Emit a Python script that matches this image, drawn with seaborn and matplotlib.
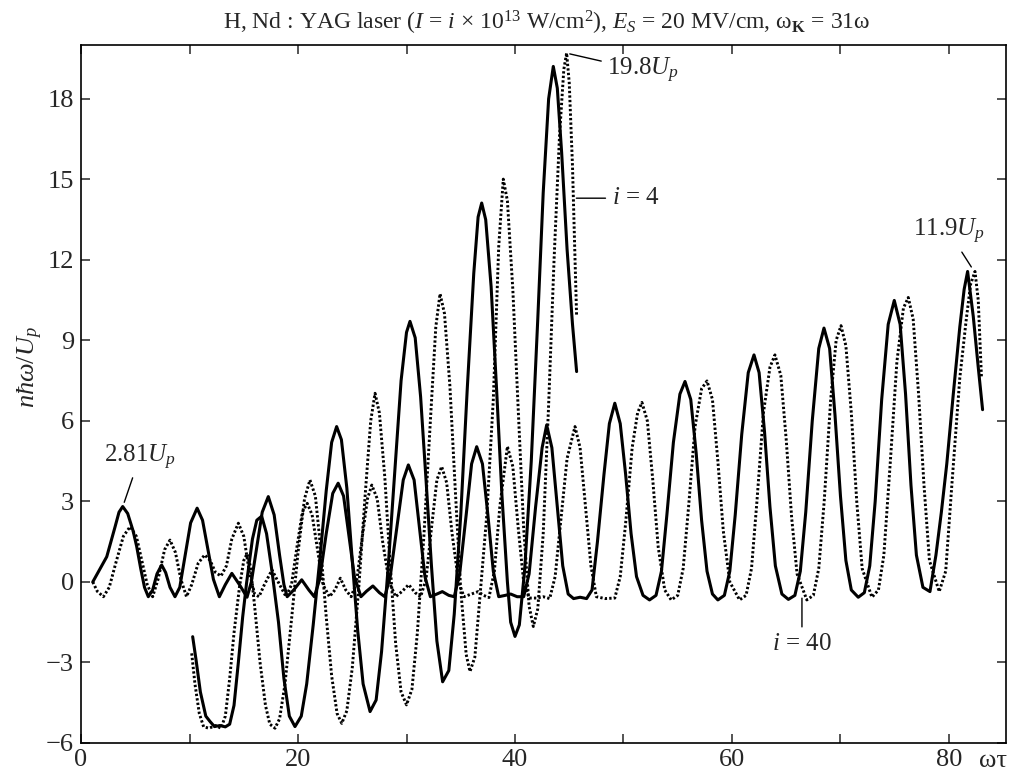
import matplotlib
matplotlib.use("Agg")
import matplotlib.pyplot as plt
import seaborn as sns
import pandas as pd

# ---- data ----
# i = 40, solid
a_x = [1.08, 1.7, 2.37, 3.14, 3.5, 3.84, 4.3, 4.8, 5.13, 5.5, 5.85, 6.2, 6.6, 7.0, 7.43, 7.8, 8.2, 8.66,
       9.1, 9.6, 10.1, 10.7, 11.2, 11.7, 12.2, 12.75, 13.3, 13.9, 14.6, 15.3, 15.7, 16.2, 16.7, 17.26,
       17.8, 18.3, 18.7, 19.0, 19.6, 20.34, 21.0, 21.5, 22.0, 22.6, 23.2, 23.7, 24.2, 24.7, 25.2, 25.8,
       26.3, 26.9, 27.5, 28.0, 28.5, 29.1, 29.7, 30.17, 30.7, 31.2, 31.7, 32.2, 32.8, 33.3, 33.9, 34.4,
       34.9, 35.5, 36.0, 36.47, 37.0, 37.5, 38.0, 38.5, 39.1, 39.6, 40.2, 40.8, 41.3, 41.9, 42.5, 42.92,
       43.4, 43.9, 44.4, 44.9, 45.4, 46.0, 46.6, 47.1, 47.6, 48.2, 48.7, 49.2, 49.7, 50.2, 50.7, 51.2,
       51.8, 52.4, 53.0, 53.5, 54.0, 54.6, 55.2, 55.67, 56.2, 56.7, 57.2, 57.7, 58.2, 58.7, 59.3, 59.8,
       60.3, 60.9, 61.5, 62.03, 62.5, 63.0, 63.5, 64.0, 64.6, 65.2, 65.8, 66.3, 66.8, 67.4, 68.0, 68.48,
       69.0, 69.5, 70.0, 70.5, 71.0, 71.64, 72.2, 72.7, 73.2, 73.8, 74.4, 74.96, 75.5, 76.0, 76.5, 77.0,
       77.6, 78.25, 78.8, 79.3, 79.8, 80.4, 81.0, 81.4, 81.72, 82.24, 82.7, 83.1]
a_y = [0.0, 0.45, 0.94, 2.06, 2.6, 2.81, 2.55, 1.9, 1.32, 0.5, -0.2, -0.55, -0.3, 0.3, 0.63, 0.35, -0.2, -0.55,
       -0.2, 1.0, 2.2, 2.75, 2.3, 1.2, 0.1, -0.55, -0.1, 0.32, -0.1, -0.57, 0.0, 1.3, 2.6, 3.18,
       2.5, 1.0, -0.1, -0.55, -0.3, 0.08, -0.3, -0.55, 0.1, 1.8, 3.3, 3.68, 3.2, 1.7, 0.2, -0.55,
       -0.35, -0.15, -0.4, -0.55, 0.2, 2.0, 3.8, 4.36, 3.8, 2.0, 0.2, -0.55, -0.45, -0.36, -0.5, -0.55,
       0.3, 2.5, 4.4, 5.04, 4.4, 2.5, 0.4, -0.55, -0.5, -0.45, -0.55, -0.55, 0.3, 2.8, 5.0, 5.85,
       5.0, 2.8, 0.6, -0.45, -0.62, -0.57, -0.62, -0.3, 1.5, 4.0, 5.9, 6.66, 5.9, 4.0, 1.8, 0.2,
       -0.5, -0.67, -0.5, 0.4, 2.5, 5.2, 7.0, 7.47, 6.8, 4.8, 2.3, 0.4, -0.45, -0.67, -0.5, 0.4,
       2.5, 5.5, 7.8, 8.46, 7.8, 5.6, 2.8, 0.6, -0.45, -0.65, -0.5, 0.4, 2.6, 6.0, 8.7, 9.46,
       8.7, 6.2, 3.2, 0.8, -0.3, -0.57, -0.4, 0.6, 3.0, 6.8, 9.6, 10.49, 9.6, 7.0, 3.6, 1.0,
       -0.2, -0.36, 1.0, 2.6, 4.4, 7.0, 9.5, 10.9, 11.57, 9.9, 8.0, 6.42]

# i = 40, dotted
b_x = [1.08, 1.5, 2.06, 2.6, 3.2, 3.9, 4.52, 5.1, 5.6, 6.1, 6.6, 7.1, 7.7, 8.2, 8.7, 9.2, 9.72, 10.2,
       10.8, 11.4, 11.9, 12.4, 12.9, 13.4, 13.9, 14.5, 15.0, 15.5, 16.0, 16.4, 16.9, 17.6, 18.3, 18.9,
       19.4, 19.9, 20.4, 20.85, 21.3, 21.8, 22.3, 22.9, 23.4, 23.9, 24.4, 24.9, 25.4, 25.9, 26.4, 26.8,
       27.3, 27.8, 28.4, 29.0, 29.6, 30.2, 30.8, 31.3, 31.8, 32.3, 32.8, 33.24, 33.7, 34.2, 34.8, 35.3,
       36.0, 36.6, 37.1, 37.6, 38.1, 38.6, 39.3, 39.8, 40.3, 40.8, 41.3, 42.0, 42.6, 43.2, 43.7, 44.2,
       44.8, 45.53, 46.0, 46.5, 47.0, 47.5, 48.3, 49.2, 49.7, 50.2, 50.8, 51.3, 51.7, 52.2, 52.7, 53.2,
       53.8, 54.4, 55.0, 55.5, 56.0, 56.6, 57.2, 57.7, 58.2, 58.7, 59.2, 59.8, 60.7, 61.3, 61.8, 62.3,
       62.9, 63.5, 63.96, 64.5, 65.0, 65.5, 66.0, 66.9, 67.5, 68.0, 68.5, 69.1, 69.6, 70.05, 70.5, 71.0,
       71.5, 72.0, 72.9, 73.5, 74.0, 74.6, 75.2, 75.8, 76.25, 76.7, 77.2, 77.7, 78.2, 79.1, 79.7, 80.3,
       81.0, 81.6, 82.0, 82.4, 82.7, 83.0]
b_y = [0.0, -0.35, -0.55, -0.2, 0.7, 1.7, 2.06, 1.7, 0.8, -0.1, -0.55, 0.1, 1.2, 1.56, 1.1, 0.1, -0.55, -0.1,
       0.7, 1.01, 0.8, 0.35, 0.22, 0.6, 1.6, 2.19, 1.7, 0.4, -0.45, -0.55, -0.1, 0.45, -0.1, -0.55,
       -0.1, 1.3, 2.6, 2.93, 2.5, 1.2, -0.1, -0.55, -0.3, 0.14, -0.3, -0.55, 0.0, 1.6, 3.1, 3.61,
       3.1, 1.5, 0.0, -0.55, -0.35, -0.1, -0.4, -0.55, 0.1, 2.0, 3.8, 4.3, 3.7, 1.8, 0.0, -0.55,
       -0.45, -0.36, -0.5, -0.58, 0.4, 2.8, 5.05, 4.3, 2.0, 0.0, -0.6, -0.6, -0.55, -0.62, 0.2, 2.2,
       4.6, 5.79, 5.0, 2.8, 0.6, -0.55, -0.62, -0.6, 0.2, 2.2, 5.0, 6.3, 6.69, 6.0, 3.8, 1.3,
       -0.3, -0.67, -0.5, 0.5, 2.8, 5.8, 7.2, 7.49, 6.8, 4.5, 1.9, 0.0, -0.67, -0.5, 0.5, 3.0,
       6.3, 8.0, 8.46, 7.7, 5.3, 2.4, 0.3, -0.67, -0.5, 0.5, 3.0, 6.8, 9.0, 9.55, 8.8, 6.3,
       3.0, 0.5, -0.57, -0.3, 1.0, 4.5, 8.2, 10.2, 10.6, 9.8, 7.0, 3.6, 0.8, -0.36, 0.4, 3.8,
       7.6, 9.8, 11.1, 11.57, 10.5, 7.6]

# i = 4, solid
c_x = [10.29, 10.6, 11.0, 11.5, 11.89, 12.3, 12.8, 13.3, 13.7, 14.1, 14.5, 14.9, 15.27, 15.8, 16.2, 16.65,
       17.1, 17.6, 18.2, 18.7, 19.2, 19.72, 20.3, 20.8, 21.4, 22.0, 22.6, 23.1, 23.56, 24.0, 24.5, 25.0,
       25.5, 26.0, 26.64, 27.2, 27.7, 28.3, 28.9, 29.5, 30.0, 30.32, 30.8, 31.3, 31.8, 32.3, 32.8, 33.33,
       33.9, 34.4, 35.0, 35.6, 36.2, 36.6, 36.93, 37.3, 37.8, 38.3, 38.8, 39.3, 39.6, 40.0, 40.4, 40.9,
       41.5, 42.1, 42.6, 43.1, 43.53, 43.9, 44.3, 44.8, 45.3, 45.68]
c_y = [-2.04, -2.9, -4.1, -5.0, -5.2, -5.39, -5.35, -5.4, -5.3, -4.6, -3.0, -1.3, 0.0, 1.6, 2.3, 2.45,
       1.8, 0.4, -1.5, -3.6, -5.0, -5.39, -5.0, -3.8, -1.6, 0.8, 3.4, 5.2, 5.79, 5.3, 3.5, 0.8,
       -1.8, -3.8, -4.83, -4.4, -2.6, 0.5, 4.0, 7.5, 9.3, 9.71, 9.1, 6.9, 3.8, 0.6, -2.2, -3.72,
       -3.3, -1.2, 2.5, 7.2, 11.5, 13.6, 14.12, 13.5, 11.0, 7.2, 3.2, 0.0, -1.5, -2.03, -1.6, 0.5,
       4.5, 9.8, 14.5, 18.0, 19.21, 18.4, 16.0, 12.4, 9.6, 7.84]

# i = 4, dotted
d_x = [10.2, 10.5, 10.9, 11.3, 11.8, 12.4, 12.9, 13.3, 13.7, 14.1, 14.6, 15.0, 15.3, 15.6, 16.0, 16.5,
       17.0, 17.4, 17.88, 18.3, 18.8, 19.4, 20.0, 20.6, 21.1, 21.6, 22.1, 22.6, 23.1, 23.6, 24.03, 24.5,
       25.0, 25.6, 26.2, 26.7, 27.1, 27.5, 28.0, 28.5, 29.0, 29.5, 30.0, 30.5, 31.0, 31.6, 32.2, 32.7,
       33.09, 33.5, 34.0, 34.5, 35.0, 35.5, 35.85, 36.3, 36.8, 37.4, 38.0, 38.5, 38.92, 39.3, 39.8, 40.3,
       40.8, 41.3, 41.69, 42.1, 42.6, 43.1, 43.6, 44.1, 44.5, 44.76, 45.0, 45.3, 45.5, 45.68]
d_y = [-2.66, -3.8, -4.9, -5.4, -5.45, -5.35, -5.45, -5.0, -3.6, -1.9, -0.2, 0.8, 1.05, 0.6, -0.9, -3.0,
       -4.6, -5.3, -5.45, -5.1, -3.8, -1.4, 1.1, 3.1, 3.8, 3.2, 1.2, -1.3, -3.5, -4.9, -5.27, -4.8,
       -3.2, -0.2, 3.3, 6.0, 7.03, 6.3, 3.9, 0.6, -2.3, -4.1, -4.58, -4.0, -1.9, 1.7, 6.0, 9.5,
       10.74, 10.0, 7.3, 3.4, -0.3, -2.7, -3.34, -2.8, -0.4, 2.5, 6.8, 12.5, 15.01, 14.2, 10.9, 6.4,
       2.0, -0.9, -1.66, -1.0, 1.8, 6.6, 12.0, 16.6, 19.1, 19.71, 18.6, 15.5, 12.5, 9.9]

x_ticks = [0, 20, 40, 60, 80]
y_ticks = [-6, -3, 0, 3, 6, 9, 12, 15, 18]

# ---- style ----
sns.set_style("ticks")
plt.rcParams["font.family"] = ["Liberation Serif", "DejaVu Serif"]
plt.rcParams["mathtext.fontset"] = "custom"
plt.rcParams["mathtext.rm"] = "Liberation Serif"
plt.rcParams["mathtext.it"] = "Liberation Serif:italic"
plt.rcParams["mathtext.bf"] = "Liberation Serif:bold"

fig = plt.figure(figsize=(10.13, 7.77), dpi=100)
ax = fig.add_axes([0.080, 0.0438, 0.913, 0.898])

dotted = (0, (0.8, 0.75))
curves = [
    (a_x, a_y, "-"),
    (b_x, b_y, dotted),
    (c_x, c_y, "-"),
    (d_x, d_y, dotted),
]
for xs, ys, ls in curves:
    df = pd.DataFrame({"x": xs, "y": ys})
    lw = 2.2 if ls == "-" else 2.1
    sns.lineplot(data=df, x="x", y="y", ax=ax, sort=False, estimator=None,
                 color="black", linewidth=lw, linestyle=ls,
                 solid_joinstyle="round", dash_joinstyle="round", solid_capstyle="round")

ax.set_xlim(0, 85.25)
ax.set_ylim(-6, 20)
ax.set_xticks(x_ticks)
ax.set_xticks([10, 30, 50, 70], minor=True)
ax.set_yticks(y_ticks)
ax.set_yticklabels([("\u2212" + str(-v)) if v < 0 else str(v) for v in y_ticks])
ax.set_xlabel("")
ax.set_ylabel("")
ax.tick_params(axis="both", which="both", direction="in", top=True, right=True,
               length=6.5, width=1.1, labelsize=19, pad=5)
ax.tick_params(axis="x", which="both", pad=4)
for s in ax.spines.values():
    s.set_linewidth(1.2)
    s.set_color("black")

# title and axis labels
fig.text(0.54, 0.970,
         r"H, Nd : YAG laser ($I$ = $i$ × 10$^{13}$ W/cm$^2$), $E_S$ = 20 MV/cm, ω$_\mathbf{K}$ = 31ω",
         ha="center", va="center", fontsize=17)
fig.text(0.030, 1 - 367 / 777, r"$n\hbar\omega/U_p$", rotation=90, ha="center", va="center", fontsize=19)
fig.text(0.980, 1 - 761 / 777, "ωτ", ha="center", va="center", fontsize=19)

# annotations
ann = dict(color="black", lw=1.0)
ax.annotate("2.81$U_p$", xy=(3.9, 2.87), xytext=(5.4, 4.1), fontsize=18,
            ha="center", va="bottom", arrowprops=dict(arrowstyle="-", **ann))
ax.annotate("19.8$U_p$", xy=(44.8, 19.7), xytext=(48.5, 19.05), fontsize=18,
            ha="left", va="center", arrowprops=dict(arrowstyle="-", **ann))
ax.annotate("$i$ = 4", xy=(45.4, 14.3), xytext=(48.9, 14.3), fontsize=18,
            ha="left", va="center", arrowprops=dict(arrowstyle="-", **ann))
ax.annotate("11.9$U_p$", xy=(82.2, 11.65), xytext=(80.0, 12.5), fontsize=18,
            ha="center", va="bottom", arrowprops=dict(arrowstyle="-", **ann))
ax.annotate("$i$ = 40", xy=(66.45, -0.5), xytext=(66.45, -1.9), fontsize=18,
            ha="center", va="top", arrowprops=dict(arrowstyle="-", **ann))

fig.savefig("out.png", dpi=100)
